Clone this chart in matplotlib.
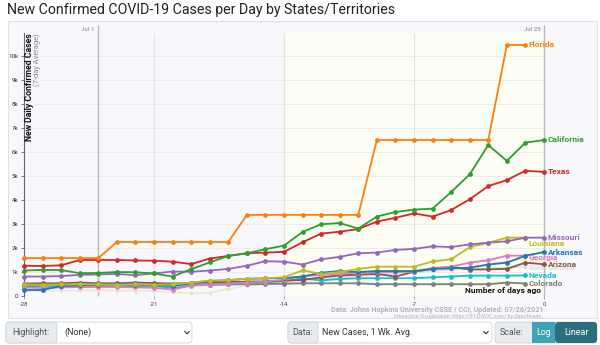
import matplotlib
matplotlib.use("Agg")
import matplotlib.pyplot as plt
from matplotlib.patches import Rectangle, FancyBboxPatch
from matplotlib.lines import Line2D

plt.rcParams['font.family'] = ['Roboto', 'DejaVu Sans']

##########################################################################################
# Data (7-day average of new cases, days before Jul 25)
title = "New Confirmed COVID-19 Cases per Day by States/Territories"
y_label = "New Daily Confirmed Cases"
y_sublabel = "(7-day Average)"
x_label = "Number of days ago"
source_text = "Data: Johns Hopkins University CSSE / CCI; Updated: 07/26/2021"
credit_text = "Interactive Visualization: https://91-DIVOC.com/ by @profwade_"

days = list(range(-28, 1))
x_ticks = [-28, -21, -14, -7, 0]
y_ticks = [0, 1000, 2000, 3000, 4000, 5000, 6000, 7000, 8000, 9000, 10000]
y_ticklabels = ["0", "1k", "2k", "3k", "4k", "5k", "6k", "7k", "8k", "9k", "10k"]
date_names = ["Jul 1", "Jul 25"]
date_days = [-24, 0]
shade_start = -14

florida = [1580, 1580, 1580, 1580, 1580, 2250, 2250, 2250, 2250, 2250, 2250, 2250,
           3380, 3380, 3380, 3380, 3380, 3380, 3380, 6500, 6500, 6500, 6500, 6500,
           6500, 6500, 10460, 10460]
california = [1060, 1090, 1080, 950, 960, 1000, 990, 940, 810, 1120, 1400, 1670, 1780,
              1950, 2100, 2670, 2990, 3040, 2810, 3310, 3500, 3600, 3640, 4330, 5070,
              6290, 5630, 6390, 6500]
texas = [1260, 1250, 1280, 1500, 1500, 1500, 1480, 1470, 1430, 1330, 1560, 1670, 1780,
         1810, 1840, 2240, 2600, 2680, 2790, 3100, 3260, 3440, 3310, 3580, 4030, 4580,
         4830, 5220, 5170]
missouri = [810, 810, 830, 880, 900, 920, 870, 940, 1020, 1010, 1060, 1130, 1260, 1450,
            1430, 1310, 1530, 1630, 1780, 1810, 1920, 1960, 2070, 2040, 2150, 2220,
            2280, 2430, 2430]
louisiana = [480, 470, 480, 490, 480, 470, 480, 470, 480, 560, 640, 660, 720, 740, 780,
             1070, 920, 1000, 1130, 1220, 1220, 1220, 1440, 1530, 2030, 2220, 2430, 2430]
arkansas = [250, 250, 420, 450, 470, 480, 470, 460, 420, 560, 620, 660, 720, 730, 750,
            810, 970, 1040, 1000, 1040, 1040, 1040, 1130, 1150, 1180, 1310, 1390, 1680,
            1830]
georgia = [350, 330, 360, 370, 380, 370, 360, 340, 270, 430, 470, 520, 560, 600, 680,
           830, 870, 940, 970, 1000, 1000, 1010, 1170, 1220, 1390, 1490, 1680, 1680]
arizona = [520, 530, 530, 560, 530, 530, 560, 540, 520, 540, 560, 580, 600, 610, 640,
           670, 780, 860, 890, 920, 810, 1010, 1130, 1220, 1100, 1110, 1130, 1390, 1320]
nevada = [400, 420, 420, 410, 420, 430, 400, 420, 330, 460, 470, 500, 530, 560, 620,
          740, 650, 710, 740, 740, 740, 740, 780, 810, 850, 850, 850, 860]
colorado = [450, 450, 460, 460, 460, 460, 460, 460, 470, 460, 470, 480, 490, 500, 510,
            530, 530, 530, 530, 490, 490, 490, 490, 490, 490, 490, 560, 520]
# faded (not highlighted) states
alabama = [220, 200, 220, 230, 230, 220, 210, 200, 150, 120, 130, 300, 420, 480, 540,
           600, 680, 760, 820, 870, 930, 980, 1050, 1120, 1220, 1330, 1450, 1540]
north_carolina = [380, 380, 400, 390, 400, 410, 400, 400, 350, 430, 480, 510, 550, 580,
                  620, 680, 740, 790, 850, 900, 960, 1000, 1050, 1090, 1130, 1160, 1180,
                  1210]

faded = [("Alabama", alabama, "#e8e8c4"), ("North Carolina", north_carolina, "#cfdfe8")]
states = [("Colorado", colorado, "#7f7f7f", 0),
          ("Nevada", nevada, "#17becf", 0),
          ("Arizona", arizona, "#8c564b", 0),
          ("Georgia", georgia, "#e377c2", -1.5),
          ("Arkansas", arkansas, "#1f77b4", 0),
          ("Louisiana", louisiana, "#bcbd22", -4.5),
          ("Missouri", missouri, "#9467bd", 0),
          ("Texas", texas, "#d62728", 0),
          ("California", california, "#2ca02c", 0),
          ("Florida", florida, "#ff7f0e", 0)]
##########################################################################################

W, H = 600, 345
fig = plt.figure(figsize=(W / 100, H / 100), dpi=100)
fig.patch.set_facecolor('white')

def fx(px):
    return px / W

def fy(py):
    return 1 - py / H

# light panel behind the plot
fig.patches.append(Rectangle((fx(8), fy(318)), fx(597) - fx(8), fy(21) - fy(318),
                             transform=fig.transFigure, facecolor='#f8f8fc',
                             edgecolor='#e2e2e6', lw=0.8, zorder=-2))

px_day = (544 - 24) / 28
ax = fig.add_axes([fx(24), fy(296), fx(597) - fx(24), fy(33) - fy(296)])
ax.set_facecolor('none')
ax.set_xlim(-28, -28 + (597 - 24) / px_day)
ymax = (296 - 33) / 24 * 1000
ax.set_ylim(0, ymax)

ax.axvspan(shade_start, 0, color='#fdfdf3', zorder=0, lw=0)
ax.hlines(y_ticks[1:], -28, 0, color='#e9e9ee', lw=0.6, zorder=0.5)
ax.vlines([t for t in x_ticks[1:-1]], 0, ymax, color='#e3e3e3', lw=0.8, zorder=0.5)
top_ext = (296 - 25) / 24 * 1000
for name, d in zip(date_names, date_days):
    ax.vlines(d, 0, top_ext, color='#b8b8b8', lw=1.0, zorder=0.6, clip_on=False)
    ax.text(d - 0.2, (296 - 29) / 24 * 1000, name, ha='right', va='center',
            fontsize=4.3, color='#a8a8a8', fontweight='bold')

for spine in ['top', 'right', 'bottom']:
    ax.spines[spine].set_visible(False)
ax.spines['left'].set_color('#666666')
ax.spines['left'].set_linewidth(0.8)

ax.set_yticks(y_ticks)
ax.set_yticklabels(y_ticklabels)
ax.set_xticks(x_ticks)
ax.set_xticklabels([str(t) for t in x_ticks])
ax.tick_params(axis='y', length=2.5, width=0.6, color='#666666', labelsize=4.5,
               labelcolor='#333333', pad=1.5)
ax.tick_params(axis='x', length=2.5, width=0.6, color='#999999', labelsize=4.3,
               labelcolor='#444444', pad=1.5)

for name, vals, col in faded:
    ax.plot(days[:len(vals)], vals, color=col, lw=1.0, marker='o', ms=1.8,
            zorder=1, clip_on=False)
    ax.annotate(name, (days[len(vals) - 1], vals[-1]), xytext=(2.5, -1),
                textcoords='offset points', color=col, fontsize=5, fontweight='bold',
                va='center', ha='left', zorder=1, annotation_clip=False)

for name, vals, col, dy in states:
    ax.plot(days[:len(vals)], vals, color=col, lw=1.3, marker='o', ms=2.4,
            zorder=3, clip_on=False)
    ax.annotate(name, (days[len(vals) - 1], vals[-1]), xytext=(2.5, dy),
                textcoords='offset points', color=col, fontsize=6, fontweight='bold',
                va='center', ha='left', zorder=4, annotation_clip=False)

ax.text(-0.15, (296 - 290) / 24 * 1000, x_label, ha='right', va='center', fontsize=6,
        fontweight='bold', color='#111111', zorder=5)

# titles and axis label
fig.text(fx(7), fy(10), title, ha='left', va='center', fontsize=10.2, color='#222222')
fig.text(fx(30), fy(33), y_label, rotation=90, ha='center', va='top', fontsize=6.3,
         fontweight='bold', color='#111111')
fig.text(fx(37.5), fy(33), y_sublabel, rotation=90, ha='center', va='top', fontsize=5.4,
         color='#888888')
fig.text(fx(544), fy(310), source_text, ha='right', va='center', fontsize=5.2,
         fontweight='bold', color='#b4b4b4')
fig.text(fx(544), fy(316.5), credit_text, ha='right', va='center', fontsize=3.8,
         color='#b4b4b4')

# control bar below the chart
def box(x0, x1, fc, ec='#ced4da'):
    fig.patches.append(FancyBboxPatch((fx(x0), fy(343)), fx(x1) - fx(x0), fy(322) - fy(343),
                                      boxstyle="round,pad=0,rounding_size=0.006",
                                      mutation_aspect=W / H, transform=fig.transFigure,
                                      facecolor=fc, edgecolor=ec, lw=0.6, zorder=1))

def chevron(xc):
    fig.add_artist(Line2D([fx(xc - 2.2), fx(xc), fx(xc + 2.2)],
                          [fy(331.5), fy(333.8), fy(331.5)], transform=fig.transFigure,
                          color='#333333', lw=0.8))

ui_size = 6.4
box(6, 192, 'white')
box(6, 57, '#e9ecef')
fig.text(fx(12), fy(332.5), "Highlight:", ha='left', va='center', fontsize=ui_size, color='#555555')
fig.text(fx(64), fy(332.5), "(None)", ha='left', va='center', fontsize=ui_size, color='#333333')
chevron(187)

box(288, 492, 'white')
box(288, 318, '#e9ecef')
fig.text(fx(292), fy(332.5), "Data:", ha='left', va='center', fontsize=ui_size, color='#555555')
fig.text(fx(322), fy(332.5), "New Cases, 1 Wk. Avg.", ha='left', va='center', fontsize=ui_size,
         color='#333333')
chevron(486)

box(495, 597, '#e9ecef')
fig.patches.append(Rectangle((fx(532), fy(343)), fx(555) - fx(532), fy(322) - fy(343),
                             transform=fig.transFigure, facecolor='#3ea3b6', lw=0, zorder=2))
fig.patches.append(FancyBboxPatch((fx(555), fy(343)), fx(597) - fx(555), fy(322) - fy(343),
                                  boxstyle="round,pad=0,rounding_size=0.006",
                                  mutation_aspect=W / H, transform=fig.transFigure,
                                  facecolor='#2b6f7e', lw=0, zorder=2))
fig.text(fx(500), fy(332.5), "Scale:", ha='left', va='center', fontsize=ui_size, color='#555555')
fig.text(fx(543.5), fy(332.5), "Log", ha='center', va='center', fontsize=ui_size, color='white',
         zorder=3)
fig.text(fx(576), fy(332.5), "Linear", ha='center', va='center', fontsize=ui_size, color='white',
         zorder=3)

plt.savefig("out.png", dpi=100, facecolor='white')
